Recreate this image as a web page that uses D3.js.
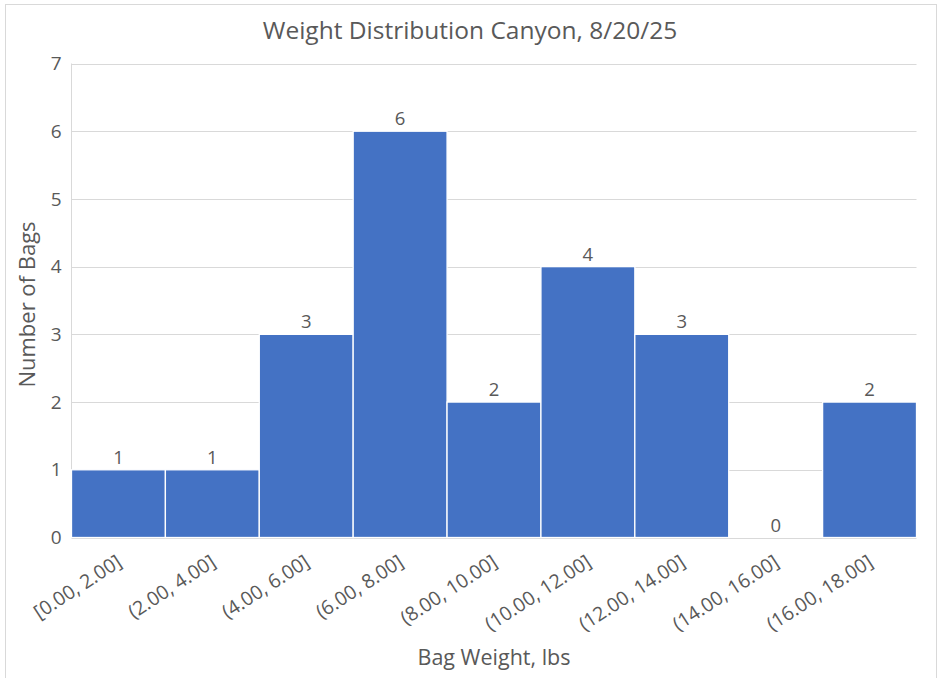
<!DOCTYPE html>
<html><head><meta charset="utf-8">
<script src="https://cdn.jsdelivr.net/npm/d3@7"></script>
<style>
body{margin:0;background:#fff;}
text{font-family:"Open Sans",sans-serif;fill:#595959;}
</style></head>
<body><svg id="c" width="940" height="678"></svg>
<script>
const categories = ["[0.00, 2.00]","(2.00, 4.00]","(4.00, 6.00]","(6.00, 8.00]","(8.00, 10.00]","(10.00, 12.00]","(12.00, 14.00]","(14.00, 16.00]","(16.00, 18.00]"];
const counts = [1,1,3,6,2,4,3,0,2];
const yTicks = [0,1,2,3,4,5,6,7];
const title = "Weight Distribution Canyon, 8/20/25";
const xTitle = "Bag Weight, lbs";
const yTitle = "Number of Bags";

const svg = d3.select("#c");
const m = {l:71.5, r:916.5, t:63.5, b:537.5};
// outer chart border
svg.append("rect").attr("x",5.5).attr("y",4.5).attr("width",931).attr("height",690)
  .attr("fill","none").attr("stroke","#D9D9D9").attr("stroke-width",1);

const x = d3.scaleBand().domain(categories).range([m.l,m.r]).padding(0);
const y = d3.scaleLinear().domain([0,7]).range([m.b,m.t]);

// gridlines
svg.append("g").selectAll("line").data(yTicks).join("line")
  .attr("x1",m.l).attr("x2",m.r)
  .attr("y1",d=>Math.round(y(d))+0.5).attr("y2",d=>Math.round(y(d))+0.5)
  .attr("stroke","#D9D9D9").attr("stroke-width",1);
// left axis line
svg.append("line").attr("x1",m.l).attr("x2",m.l).attr("y1",m.t).attr("y2",m.b)
  .attr("stroke","#D9D9D9");

// bars
svg.append("g").selectAll("rect").data(counts).join("rect")
  .attr("x",(d,i)=>x(categories[i]))
  .attr("width",x.bandwidth())
  .attr("y",d=>y(d))
  .attr("height",d=>y(0)-y(d))
  .attr("fill","#4472C4")
  .attr("stroke","#fff").attr("stroke-width",1.3);

// data labels
svg.append("g").selectAll("text").data(counts).join("text")
  .attr("x",(d,i)=>x(categories[i])+x.bandwidth()/2)
  .attr("y",d=>y(d)-6)
  .attr("text-anchor","middle")
  .attr("font-size",18.5)
  .text(d=>d);

// y tick labels
const yAxis = d3.axisLeft(y).tickValues(yTicks).tickFormat(d3.format("d")).tickSize(0).tickPadding(10);
const gy = svg.append("g").attr("transform",`translate(${m.l},0)`).call(yAxis);
gy.select(".domain").remove();
gy.selectAll("text").attr("font-size",19).attr("font-family","Open Sans").attr("fill","#595959");

// x tick labels
svg.append("g").selectAll("text").data(categories).join("text")
  .attr("transform",d=>`translate(${x(d)+x.bandwidth()/2+1},${m.b+22}) rotate(-33)`)
  .attr("text-anchor","end")
  .attr("dy","0.35em")
  .attr("font-size",19.5)
  .text(d=>d);

// titles
svg.append("text").attr("x",470).attr("y",39).attr("text-anchor","middle")
  .attr("font-size",24.5).attr("font-family","Lato").text(title);
svg.append("text").attr("x",(m.l+m.r)/2).attr("y",665).attr("text-anchor","middle")
  .attr("font-size",21.5).text(xTitle);
svg.append("text").attr("transform",`translate(35,${(m.t+m.b)/2+4}) rotate(-90)`)
  .attr("text-anchor","middle").attr("font-size",22).text(yTitle);
</script></body></html>
